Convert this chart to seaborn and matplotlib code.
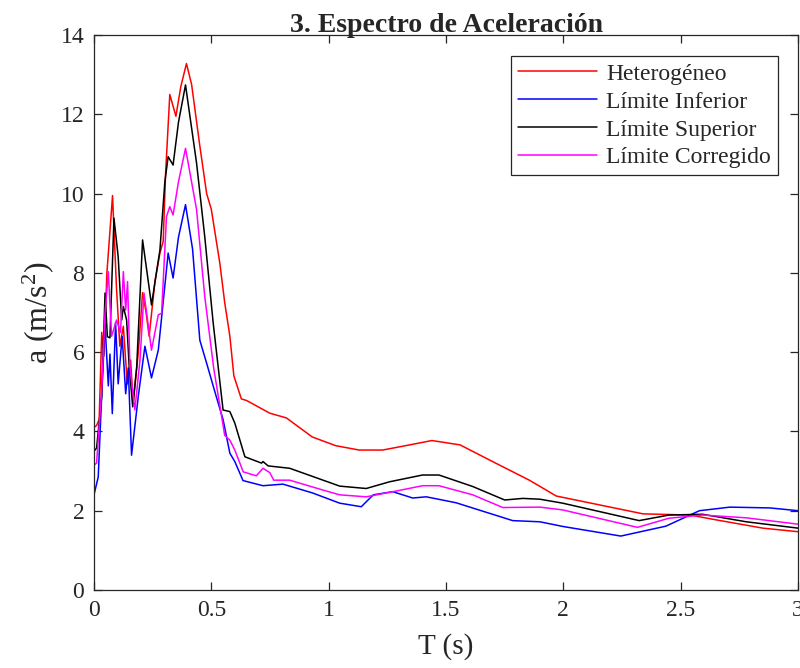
import matplotlib
matplotlib.use("Agg")
import matplotlib.pyplot as plt
import seaborn as sns
import pandas as pd

# periods (s) and spectral accelerations (m/s^2)
T_het = [0, 0.011, 0.022, 0.033, 0.042, 0.055, 0.079, 0.096, 0.11, 0.125, 0.142, 0.156,
         0.167, 0.189, 0.207, 0.222, 0.235, 0.26, 0.281, 0.295, 0.305, 0.323, 0.349, 0.37,
         0.394, 0.416, 0.451, 0.48, 0.5, 0.536, 0.557, 0.579, 0.596, 0.628, 0.65, 0.749,
         0.82, 0.93, 1.03, 1.13, 1.23, 1.345, 1.44, 1.56, 1.685, 1.855, 1.97, 2.34, 2.54,
         2.65, 2.85, 3.0]
a_het = [4.1, 4.15, 4.3, 6.5, 5.9, 8.0, 9.95, 7.6, 6.15, 6.65, 5.2, 5.8,
         4.7, 6.0, 7.5, 7.0, 6.4, 7.8, 8.5, 8.8, 10.5, 12.5, 11.95, 12.7,
         13.28, 12.75, 11.2, 10.0, 9.6, 8.25, 7.25, 6.4, 5.4, 4.82, 4.78, 4.46,
         4.34, 3.86, 3.64, 3.53, 3.53, 3.66, 3.77, 3.66, 3.28, 2.77, 2.37, 1.92, 1.89,
         1.77, 1.56, 1.47]

T_inf = [0, 0.018, 0.033, 0.047, 0.061, 0.068, 0.078, 0.092, 0.103, 0.12, 0.135, 0.146,
         0.16, 0.189, 0.217, 0.245, 0.274, 0.316, 0.337, 0.36, 0.39, 0.42, 0.451, 0.48,
         0.52, 0.55, 0.579, 0.6, 0.635, 0.72, 0.805, 0.93, 1.047, 1.139, 1.19, 1.273,
         1.358, 1.416, 1.543, 1.784, 1.9, 2.0, 2.245, 2.437, 2.58, 2.71, 2.88, 3.0]
a_inf = [2.4, 2.85, 4.95, 6.7, 5.15, 5.95, 4.45, 6.75, 5.2, 6.4, 4.95, 5.6,
         3.4, 4.9, 6.15, 5.35, 6.05, 8.5, 7.87, 8.9, 9.72, 8.6, 6.3, 5.72,
         4.9, 4.3, 3.45, 3.24, 2.76, 2.63, 2.67, 2.45, 2.19, 2.1, 2.4, 2.48,
         2.32, 2.35, 2.2, 1.75, 1.72, 1.6, 1.36, 1.61, 2.0, 2.09, 2.07, 2.0]

T_sup = [0, 0.011, 0.033, 0.047, 0.057, 0.068, 0.085, 0.103, 0.118, 0.125, 0.139, 0.15,
         0.165, 0.182, 0.207, 0.245, 0.281, 0.302, 0.316, 0.337, 0.36, 0.39, 0.437, 0.472,
         0.508, 0.55, 0.579, 0.6, 0.643, 0.714, 0.72, 0.742, 0.834, 0.976, 1.047, 1.16,
         1.26, 1.4, 1.47, 1.614, 1.75, 1.827, 1.9, 1.997, 2.323, 2.45, 2.593, 2.78, 3.0]
a_sup = [3.5, 3.58, 4.88, 7.49, 6.39, 6.36, 9.38, 8.41, 6.81, 7.15, 6.81, 5.63,
         4.62, 5.63, 8.83, 7.19, 8.58, 10.3, 10.93, 10.72, 11.8, 12.74, 10.77, 8.91,
         6.73, 4.54, 4.5, 4.21, 3.36, 3.2, 3.24, 3.13, 3.07, 2.77, 2.62, 2.56,
         2.73, 2.9, 2.9, 2.61, 2.27, 2.31, 2.29, 2.19, 1.75, 1.89, 1.91, 1.72, 1.56]

T_cor = [0, 0.011, 0.033, 0.047, 0.061, 0.075, 0.096, 0.113, 0.125, 0.135, 0.143, 0.153,
         0.174, 0.196, 0.213, 0.245, 0.274, 0.288, 0.309, 0.323, 0.337, 0.36, 0.39, 0.437,
         0.472, 0.51, 0.557, 0.579, 0.6, 0.636, 0.692, 0.72, 0.749, 0.766, 0.834, 0.976,
         1.047, 1.16, 1.274, 1.4, 1.47, 1.614, 1.742, 1.9, 1.997, 2.316, 2.45, 2.593,
         2.78, 3.0]
a_cor = [3.15, 3.2, 5.05, 6.98, 8.03, 6.4, 6.81, 6.5, 8.03, 7.06, 7.78, 5.63,
         4.54, 5.8, 7.49, 6.05, 6.94, 6.98, 9.42, 9.67, 9.46, 10.3, 11.14, 9.6,
         7.4, 5.6, 3.9, 3.78, 3.53, 2.98, 2.88, 3.07, 2.96, 2.77, 2.77, 2.52,
         2.4, 2.35, 2.48, 2.63, 2.63, 2.4, 2.08, 2.09, 2.02, 1.58, 1.81, 1.89,
         1.82, 1.66]

labels = ["Heterogéneo", "Límite Inferior", "Límite Superior", "Límite Corregido"]
colors = ["#ff0000", "#0000ff", "#000000", "#ff00ff"]

series = [(T_het, a_het), (T_inf, a_inf), (T_sup, a_sup), (T_cor, a_cor)]
df = pd.concat(
    [pd.DataFrame({"T": t, "a": a, "serie": lab}) for (t, a), lab in zip(series, labels)],
    ignore_index=True,
)

sns.set_style("ticks")
plt.rcParams["font.family"] = ["Liberation Serif", "DejaVu Serif"]
plt.rcParams["mathtext.fontset"] = "custom"
plt.rcParams["mathtext.rm"] = "Liberation Serif"
plt.rcParams["mathtext.it"] = "Liberation Serif:italic"

fig = plt.figure(figsize=(8, 6.68), dpi=100)
ax = fig.add_axes([0.1175, 0.1168, 0.88, 0.8308])

sns.lineplot(data=df, x="T", y="a", hue="serie", hue_order=labels,
             palette=dict(zip(labels, colors)), estimator=None, sort=False,
             linewidth=1.1, ax=ax)

ax.set_xlim(0, 3)
ax.set_ylim(0, 14)
ax.set_xticks([0, 0.5, 1, 1.5, 2, 2.5, 3])
ax.set_xticklabels(["0", "0.5", "1", "1.5", "2", "2.5", "3"])
ax.set_yticks(range(0, 15, 2))

axc = "#262626"
for s in ax.spines.values():
    s.set_visible(True)
    s.set_color(axc)
    s.set_linewidth(0.9)
ax.tick_params(direction="in", top=True, right=True, length=6, width=0.9,
               color=axc, labelcolor=axc, labelsize=17, pad=7)

ax.set_xlabel("T (s)", fontsize=21, color=axc, labelpad=9)
ax.set_ylabel("a (m/s$^2$)", fontsize=23, color=axc, labelpad=3)
ax.set_title("3. Espectro de Aceleración", fontsize=20, fontweight="bold", pad=2)

leg = ax.legend(loc="upper right", bbox_to_anchor=(0.9716, 0.962), borderaxespad=0,
                fontsize=17, handlelength=3.35, handletextpad=0.38, labelspacing=0.27,
                borderpad=0.3, fancybox=False, framealpha=1, edgecolor=axc)
leg.get_frame().set_linewidth(0.9)
for line in leg.get_lines():
    line.set_linewidth(1.1)

fig.savefig("out.png", dpi=100)
